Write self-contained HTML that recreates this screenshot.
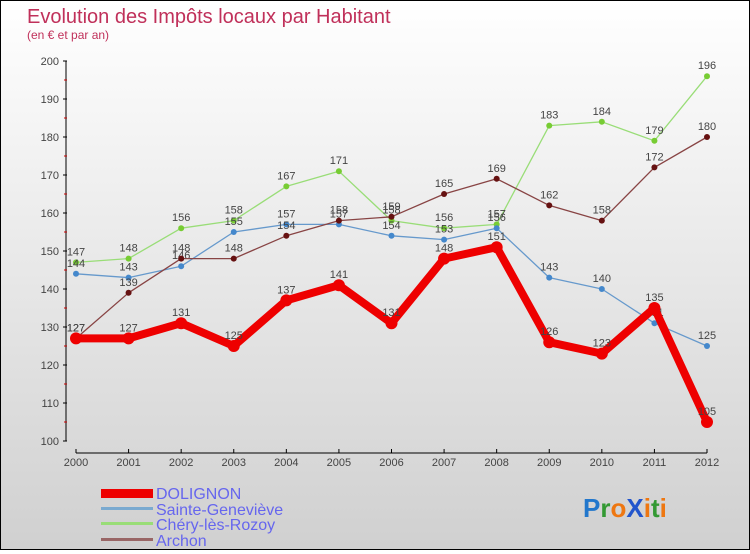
<!DOCTYPE html>
<html><head><meta charset="utf-8"><style>
html,body{margin:0;padding:0}
body{width:750px;height:550px;overflow:hidden;font-family:"Liberation Sans",sans-serif}
#wrap{position:relative;width:748px;height:548px;border:1px solid #000;background:linear-gradient(#ffffff,#d0d0d0)}
</style></head><body>
<div id="wrap">
<svg id="chart" width="748" height="548">
<text x="26" y="22" font-size="20" fill="#c0305a">Evolution des Impôts locaux par Habitant</text>
<text x="26" y="38" font-size="12" fill="#c0305a">(en € et par an)</text>
<g id="axes"></g><g id="series"></g>
<g>
<rect x="100" y="488" width="52" height="9" fill="#e00"/>
<text x="155" y="498" font-size="16" fill="#6666ee">DOLIGNON</text>
<rect x="100" y="506" width="52" height="3" fill="#7aaad0"/>
<text x="155" y="514" font-size="16" fill="#6666ee">Sainte-Geneviève</text>
<rect x="100" y="521" width="52" height="3" fill="#99dd77"/>
<text x="155" y="529" font-size="16" fill="#6666ee">Chéry-lès-Rozoy</text>
<rect x="100" y="537" width="52" height="3" fill="#996666"/>
<text x="155" y="545" font-size="16" fill="#6666ee">Archon</text>
</g>
<g font-size="26" font-weight="bold">
<text x="582" y="516"><tspan fill="#2277cc">P</tspan><tspan fill="#339933">r</tspan><tspan fill="#ee7711">o</tspan><tspan fill="#2255cc">X</tspan><tspan fill="#ee7711">i</tspan><tspan fill="#339933">t</tspan><tspan fill="#ee7711">i</tspan></text>
</g>
</svg></div>
<script>
const years=[2000,2001,2002,2003,2004,2005,2006,2007,2008,2009,2010,2011,2012];
const yTicks=[100,110,120,130,140,150,160,170,180,190,200];
const dolignon=[127,127,131,125,137,141,131,148,151,126,123,135,105];
const sainteGenevieve=[144,143,146,155,157,157,154,153,156,143,140,131,125];
const chery=[147,148,156,158,167,171,158,156,157,183,184,179,196];
const archon=[127,139,148,148,154,158,159,165,169,162,158,172,180];
const NS="http://www.w3.org/2000/svg";
function xs(i){return 75+i*(706-75)/(years.length-1);}
function ys(v){return 440-(v-100)*3.8;}
function mk(t,a,p){const e=document.createElementNS(NS,t);for(const k in a)e.setAttribute(k,a[k]);p.appendChild(e);return e;}
const ax=document.getElementById('axes');
const yl=mk('line',{x1:65,y1:ys(200),x2:65,y2:ys(100),stroke:'#000'},ax);


yTicks.forEach(v=>{
  mk('line',{x1:62,y1:ys(v),x2:66,y2:ys(v),stroke:'#000'},ax);
  if(v<200) mk('line',{x1:63,y1:ys(v+5),x2:66,y2:ys(v+5),stroke:'#c00'},ax);
  const t=mk('text',{x:58,y:ys(v)+4,'font-size':11,fill:'#444','text-anchor':'end'},ax);
  t.textContent=v;
  
  
});
const xl=mk('line',{x1:75,y1:452,x2:706,y2:452,stroke:'#000'},ax);


years.forEach((y,i)=>{
  mk('line',{x1:xs(i),y1:448,x2:xs(i),y2:452,stroke:'#000'},ax);
  const t=mk('text',{x:xs(i),y:465,'font-size':11,fill:'#444','text-anchor':'middle'},ax);
  t.textContent=y;
  
  
});
const sg=document.getElementById('series');
function draw(name,data,color,w,r,dot){
  const g=mk('g',{},sg);
  
  
  mk('polyline',{points:data.map((v,i)=>xs(i)+','+ys(v)).join(' '),fill:'none',stroke:color,'stroke-width':w,'stroke-linejoin':'round'},g);
  data.forEach((v,i)=>{
    const c=mk('circle',{cx:xs(i),cy:ys(v),r:r,fill:dot},g);
    
    
    const t=mk('text',{x:xs(i),y:ys(v)-7,'font-size':11,fill:'#444','text-anchor':'middle'},g);
    t.textContent=v;
    
    
  });
}
draw('chery',chery,'#99dd77',1.3,3,'#77cc33');
draw('sainte-genevieve',sainteGenevieve,'#6699cc',1.3,3,'#4488cc');
draw('archon',archon,'#884444',1.3,3,'#661111');
draw('dolignon',dolignon,'#ee0000',8,6,'#ee0000');
</script>
</body></html>
